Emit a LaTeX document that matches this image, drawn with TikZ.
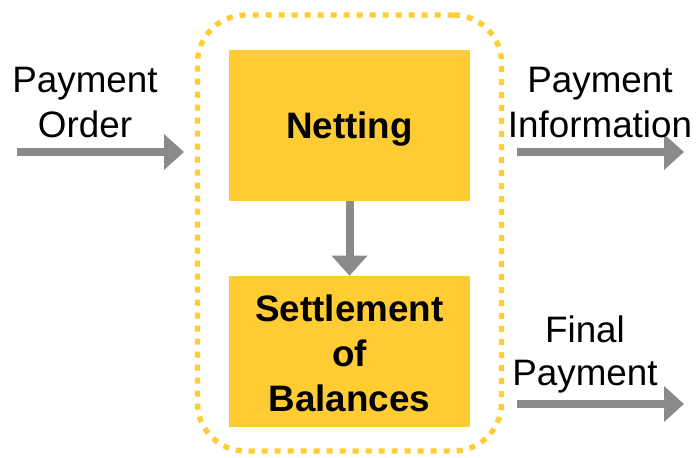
\documentclass[tikz,border=0pt]{standalone}
\usepackage{fontspec}
\setmainfont{Liberation Sans}
\usetikzlibrary{arrows.meta}
\definecolor{boxyellow}{RGB}{255,204,51}
\definecolor{arrowgray}{RGB}{138,138,138}
\begin{document}
\begin{tikzpicture}[x=0.75pt,y=-0.75pt,
  box/.style={fill=boxyellow, draw=none, inner sep=0pt, minimum width=180.75pt, minimum height=113.25pt},
  boxtext/.style={inner sep=0pt, align=center, font=\bfseries\fontsize{27.6}{33.75}\selectfont},
  label/.style={inner sep=0pt, align=center, font=\fontsize{27.6}{33.75}\selectfont},
  flow/.style={draw=arrowgray, line width=6pt, -{Triangle[width=26pt,length=15pt]}},
  group/.style={draw=boxyellow, line width=4pt, dash pattern=on 4.5pt off 5.25pt, rounded corners=36pt, minimum width=228pt, minimum height=327pt, inner sep=0pt}
]
\useasboundingbox (0,0) rectangle (696,457);
\node[group] (grp) at (349.5,233) {};
\node[box] (net) at (349.5,125.5) {};
\node[box] (set) at (349.5,351.5) {};
\node[boxtext, text depth=0pt] (nettxt) at (net.center) {Netting};
\node[boxtext] (settxt) at ([yshift=-1.5pt]set.center) {Settlement\\of\\Balances};
\draw[flow] (net.south) -- (set.north);
\coordinate (inA) at (17,152);
\coordinate (inB) at (184,152);
\coordinate (outA1) at (517,152);
\coordinate (outB1) at (684,152);
\coordinate (outA2) at (517,404);
\coordinate (outB2) at (684,404);
\draw[flow] (inA) -- (inB);
\draw[flow] (outA1) -- (outB1);
\draw[flow] (outA2) -- (outB2);
\node[label] (po) at (85,103) {Payment\\Order};
\node[label] (pi) at (600,103) {Payment\\Information};
\node[label, font=\fontsize{27.6}{32.5}\selectfont] (fp) at (585,354.5) {Final\\Payment};
\end{tikzpicture}
\end{document}
